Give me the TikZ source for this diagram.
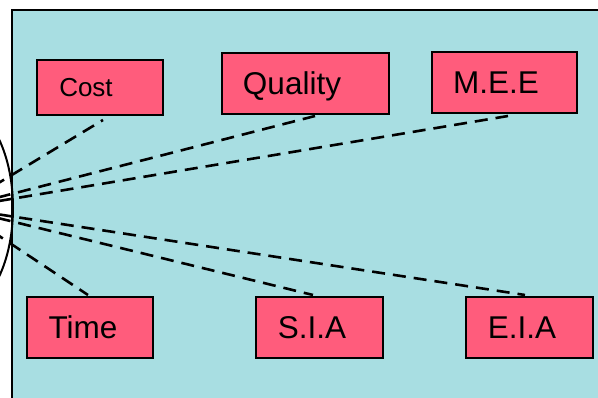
\documentclass[tikz,border=0pt]{standalone}
\usepackage{fontspec}
\setmainfont{Liberation Sans}
\usetikzlibrary{calc}
\definecolor{bg}{RGB}{168,222,226}
\definecolor{boxc}{RGB}{255,92,124}
\begin{document}
\begin{tikzpicture}[x=1pt,y=-1pt,
 box/.style={draw=black,line width=2pt,fill=boxc,minimum height=61pt,inner sep=0pt},
 lbl/.style={font=\fontsize{31.5}{31.5}\selectfont,inner sep=0pt,text height=22pt,text depth=0pt},
 slbl/.style={font=\fontsize{26}{26}\selectfont,inner sep=0pt,text height=18.5pt,text depth=0pt},
 conn/.style={line width=2.6pt,dash pattern=on 13pt off 8pt}]
\useasboundingbox (0,0) rectangle (598,398);
\clip (0,0) rectangle (598,398);
\fill[white] (0,0) rectangle (598,398);
\draw[fill=bg,line width=2pt] (12,10) rectangle (620,420);
\coordinate (c) at (-43,208);
\draw[line width=2pt] (c) ellipse (56pt and 104pt);
\node[box,minimum width=126pt,minimum height=55pt] (cost) at (100,87.5) {};
\node[box,minimum width=167pt] (quality) at (305.5,83.5) {};
\node[box,minimum width=145pt] (mee) at (504.5,82.5) {};
\node[box,minimum width=126pt] (time) at (90,327.5) {};
\node[box,minimum width=127pt] (sia) at (319.5,327.5) {};
\node[box,minimum width=127pt] (eia) at (529.5,327.5) {};
\node[slbl] at ($(cost)+(-14,0)$) {Cost};
\node[lbl] at ($(quality)+(-13.5,0)$) {Quality};
\node[lbl] at ($(mee)+(-8.5,0)$) {M.E.E};
\node[lbl] at ($(time)+(-7,0)$) {Time};
\node[lbl] at ($(sia)+(-7.5,0)$) {S.I.A};
\node[lbl] at ($(eia)+(-7.5,0)$) {E.I.A};
\draw[conn] (c) -- ([xshift=3pt,yshift=-4pt]cost.south);
\draw[conn] (c) -- ([xshift=9.5pt,yshift=-1pt]quality.south);
\draw[conn] (c) -- ([xshift=3.5pt,yshift=-2pt]mee.south);
\draw[conn] (c) -- ([xshift=-2pt,yshift=1pt]time.north);
\draw[conn] (c) -- ([xshift=-6.5pt,yshift=1pt]sia.north);
\draw[conn] (c) -- ([xshift=-4.5pt,yshift=1pt]eia.north);
\end{tikzpicture}
\end{document}
